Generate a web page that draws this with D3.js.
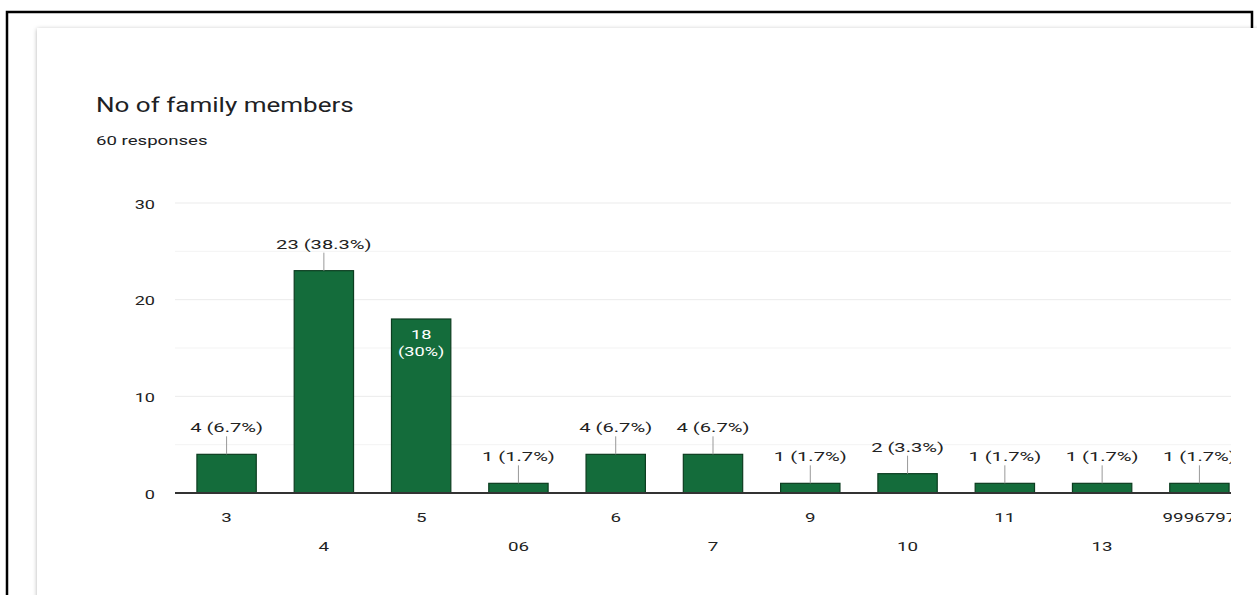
<!DOCTYPE html>
<html>
<head>
<meta charset="utf-8">
<script src="https://cdn.jsdelivr.net/npm/d3@7"></script>
<style>
  body { margin: 0; background: #fff; font-family: Roboto, "Liberation Sans", Arial, sans-serif; }
  svg { display: block; }
</style>
</head>
<body>
<div id="chart"></div>
<script>
// data
const categories = ["3", "4", "5", "06", "6", "7", "9", "10", "11", "13", "9996797"];
const counts = [4, 23, 18, 1, 4, 4, 1, 2, 1, 1, 1];
const percents = ["6.7%", "38.3%", "30%", "1.7%", "6.7%", "6.7%", "1.7%", "3.3%", "1.7%", "1.7%", "1.7%"];
const insideLabels = ["5"];
const yTicks = [0, 10, 20, 30];

const width = 1257, height = 595;
const data = categories.map((c, i) => ({cat: c, value: counts[i], pct: percents[i]}));

// the source screenshot is stretched sideways, so text gets a horizontal scale
function hstretch(sel, k) {
    sel.each(function () {
        let t = d3.select(this);
        let tx = +t.attr("x") || 0, ty = +t.attr("y") || 0;
        t.attr("x", 0).attr("y", 0)
         .attr("transform", "translate(" + tx + "," + ty + ") scale(" + k + ",1)");
    });
}

let svg = d3.select("#chart").append("svg")
    .attr("width", width)
    .attr("height", height);

// card shadow
let defs = svg.append("defs");
let f = defs.append("filter").attr("id", "shadow")
    .attr("x", "-5%").attr("y", "-5%").attr("width", "110%").attr("height", "110%");
f.append("feDropShadow").attr("dx", 0).attr("dy", 1).attr("stdDeviation", 2)
    .attr("flood-color", "#000").attr("flood-opacity", 0.3);

svg.append("rect")
    .attr("x", 37).attr("y", 28)
    .attr("width", 1260).attr("height", 620)
    .attr("fill", "#fff")
    .attr("filter", "url(#shadow)");

// outer black frame
svg.append("path")
    .attr("d", "M7,595 L7,12 L1252,12 L1252,28")
    .attr("fill", "none")
    .attr("stroke", "#000")
    .attr("stroke-width", 2.5);

// titles
svg.append("text")
    .attr("x", 96).attr("y", 112)
    .attr("font-size", 21)
    .attr("fill", "#202124")
    .text("No of family members")
    .call(hstretch, 1.24);
svg.append("text")
    .attr("x", 96).attr("y", 145)
    .attr("font-size", 13.5)
    .attr("fill", "#202124")
    .text("60 responses")
    .call(hstretch, 1.38);

const plotLeft = 175, plotRight = 1231;

let x = d3.scaleBand()
    .domain(categories)
    .range([176, 1250])
    .paddingInner(0.39)
    .paddingOuter(0.215);

let y = d3.scaleLinear()
    .domain([0, 30])
    .range([493, 203]);

svg.append("clipPath").attr("id", "clip")
  .append("rect")
    .attr("x", 0).attr("y", 0)
    .attr("width", plotRight).attr("height", height);

// gridlines
let gridVals = d3.range(0, 31, 5);
svg.append("g")
    .selectAll("line")
    .data(gridVals)
    .join("line")
    .attr("x1", plotLeft).attr("x2", plotRight)
    .attr("y1", d => y(d)).attr("y2", d => y(d))
    .attr("stroke", d => d % 10 === 0 ? "#ebebeb" : "#f3f3f3")
    .attr("stroke-width", 1);

// y axis labels
let yAxis = d3.axisLeft(y).tickValues(yTicks).tickSize(0).tickPadding(0);
let yg = svg.append("g")
    .attr("transform", "translate(155,0)")
    .call(yAxis);
yg.select(".domain").remove();
yg.selectAll("text")
    .attr("font-family", "Roboto, 'Liberation Sans', Arial, sans-serif")
    .attr("font-size", 12.5)
    .attr("fill", "#222")
    .attr("dy", null)
    .attr("y", 5)
    .call(hstretch, 1.45);

let plot = svg.append("g").attr("clip-path", "url(#clip)");

// bars
plot.selectAll("rect.bar")
    .data(data)
    .join("rect")
    .attr("class", "bar")
    .attr("x", d => x(d.cat))
    .attr("y", d => y(d.value))
    .attr("width", x.bandwidth())
    .attr("height", d => y(0) - y(d.value))
    .attr("fill", "#146c3b")
    .attr("stroke", "#0c3d20")
    .attr("stroke-width", 1.2);

// baseline
svg.append("line")
    .attr("x1", plotLeft).attr("x2", plotRight)
    .attr("y1", y(0)).attr("y2", y(0))
    .attr("stroke", "#333")
    .attr("stroke-width", 2);

// value labels
let outside = data.filter(d => !insideLabels.includes(d.cat));
let inside = data.filter(d => insideLabels.includes(d.cat));

plot.selectAll("line.leader")
    .data(outside)
    .join("line")
    .attr("class", "leader")
    .attr("x1", d => x(d.cat) + x.bandwidth() / 2)
    .attr("x2", d => x(d.cat) + x.bandwidth() / 2)
    .attr("y1", d => y(d.value))
    .attr("y2", d => y(d.value) - 18)
    .attr("stroke", "#999")
    .attr("stroke-width", 1);

plot.selectAll("text.val")
    .data(outside)
    .join("text")
    .attr("class", "val")
    .attr("x", d => x(d.cat) + x.bandwidth() / 2)
    .attr("y", d => y(d.value) - 22)
    .attr("text-anchor", "middle")
    .attr("font-size", 13)
    .attr("fill", "#222")
    .text(d => d.value + " (" + d.pct + ")")
    .call(hstretch, 1.55);

let inTxt = plot.selectAll("text.inval")
    .data(inside)
    .join("text")
    .attr("class", "inval")
    .attr("x", d => x(d.cat) + x.bandwidth() / 2)
    .attr("y", d => y(d.value) + 20)
    .attr("text-anchor", "middle")
    .attr("font-size", 13)
    .attr("fill", "#fff")
    .call(hstretch, 1.4);
inTxt.append("tspan")
    .attr("x", 0)
    .text(d => d.value);
inTxt.append("tspan")
    .attr("x", 0)
    .attr("dy", 17)
    .text(d => "(" + d.pct + ")");

// x axis labels, staggered on two rows
let xAxis = d3.axisBottom(x).tickSize(0).tickPadding(0);
let xg = svg.append("g")
    .attr("transform", "translate(0," + y(0) + ")")
    .attr("clip-path", "url(#clip)")
    .call(xAxis);
xg.select(".domain").remove();
xg.selectAll("text")
    .attr("font-family", "Roboto, 'Liberation Sans', Arial, sans-serif")
    .attr("font-size", 12.5)
    .attr("fill", "#222")
    .attr("dy", null)
    .attr("y", (d, i) => i % 2 === 0 ? 29 : 58)
    .call(hstretch, 1.5);
</script>
</body>
</html>
